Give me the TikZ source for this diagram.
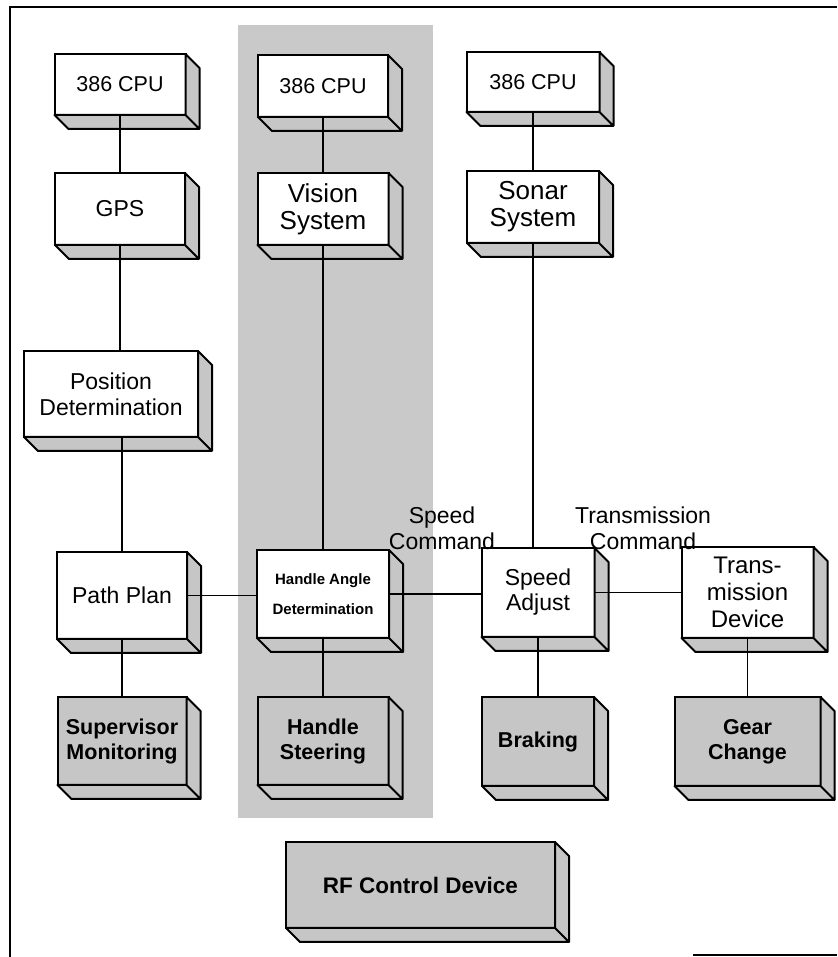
\documentclass[tikz,border=0pt]{standalone}
\usepackage{fontspec}
\setmainfont{Liberation Sans}
\usetikzlibrary{positioning}
\colorlet{shade}{gray!45}
\colorlet{bandgray}{gray!42}

\begin{document}
\begin{tikzpicture}[
  x=1pt, y=1pt,
  blk/.style={draw, line width=2pt, fill=white, align=center,
    inner sep=1pt, outer sep=0pt, font=\fontsize{22}{26}\selectfont},
  dark/.style={blk, fill=shade, font=\fontsize{21.5}{25}\selectfont\bfseries},
  dims/.style 2 args={minimum width=#1, minimum height=#2},
  side/.style={draw, line width=2pt, fill=shade, line join=round},
  link/.style={line width=1.6pt},
  lbl/.style={align=center, font=\fontsize{23}{26}\selectfont},
]
  \useasboundingbox (0,0) rectangle (837,957);

  % outer frame
  \draw[line width=1.5pt] (10,0) -- (10,950) -- (837,950);
  \draw[line width=1.5pt] (693,2) -- (837,2);

  % shaded band behind the vision chain
  \fill[bandgray] (238,139) rectangle (433,932);

  % GPS chain
  \node[blk, dims={131pt}{61pt}, font=\fontsize{21.5}{24}\selectfont] (cpuA) at (120,872.5) {386 CPU};
  \node[blk, dims={130pt}{72pt}, font=\fontsize{23}{26}\selectfont, below=58pt of cpuA] (gps) {GPS};
  \node[blk, dims={174pt}{86pt}, font=\fontsize{23}{26}\selectfont, below=106pt of gps, xshift=-9pt] (posdet) {Position\\Determination};
  \node[blk, dims={130pt}{87pt}, font=\fontsize{23}{26}\selectfont, below=115pt of posdet, xshift=11pt] (path) {Path Plan};
  \node[dark, dims={129pt}{88pt}, below=58pt of path] (sup) {Supervisor\\Monitoring};

  % vision chain
  \node[blk, dims={130pt}{62pt}, font=\fontsize{21.5}{24}\selectfont] (cpuB) at (323,871) {386 CPU};
  \node[blk, dims={131pt}{72pt}, font=\fontsize{26}{27}\selectfont, below=56pt of cpuB] (vision) {Vision\\System};
  \node[blk, dims={132pt}{88pt}, font=\fontsize{15}{30}\selectfont\bfseries, below=305pt of vision] (had) {Handle Angle\\Determination};
  \node[dark, dims={131pt}{88pt}, below=59pt of had] (steer) {Handle\\Steering};

  % sonar chain
  \node[blk, dims={133pt}{60pt}, font=\fontsize{21.5}{24}\selectfont] (cpuC) at (533,875) {386 CPU};
  \node[blk, dims={132pt}{72pt}, font=\fontsize{26}{27}\selectfont, below=59pt of cpuC] (sonar) {Sonar\\System};
  \node[blk, dims={113pt}{89pt}, font=\fontsize{23}{25}\selectfont, below=305pt of sonar, xshift=5pt] (speed) {Speed\\Adjust};
  \node[dark, dims={112pt}{89pt}, below=60pt of speed] (brake) {Braking};

  % transmission
  \node[blk, dims={132pt}{91pt}, font=\fontsize{24}{27}\selectfont, right=87pt of speed] (trans) {Trans-\\mission\\Device};
  \node[dark, dims={146pt}{89pt}, below=59pt of trans] (gear) {Gear\\Change};

  % remote
  \node[dark, dims={269pt}{86pt}, font=\fontsize{22.5}{26}\selectfont\bfseries] (rf) at (420.5,72) {RF Control Device};

  % link labels
  \node[lbl] (spdcmd) at (442,429) {Speed\\Command};
  \node[lbl] (trncmd) at (643,429) {Transmission\\Command};

  % depth faces of every block
  \foreach \n in {cpuA,gps,posdet,path,sup,cpuB,vision,had,steer,cpuC,sonar,speed,brake,trans,gear,rf}
    \draw[side] (\n.north east) -- ++(14,-14) -- ([shift={(14,-14)}]\n.south east)
      -- ([shift={(14,-14)}]\n.south west) -- (\n.south west) -- (\n.south east) -- cycle
      (\n.south east) -- ++(14,-14);

  % links
  \draw[link] (cpuA.south) -- (cpuA.south |- gps.north);
  \draw[link] (gps.south) -- (gps.south |- posdet.north);
  \draw[link] (path.north |- posdet.south) -- (path.north);
  \draw[link] (path.south) -- (path.south |- sup.north);
  \draw[link] (cpuB.south) -- (cpuB.south |- vision.north);
  \draw[link] (vision.south) -- (vision.south |- had.north);
  \draw[link] (had.south) -- (had.south |- steer.north);
  \draw[link] (cpuC.south) -- (cpuC.south |- sonar.north);
  \draw[link] (sonar.south) -- (sonar.south |- speed.north);
  \draw[link] (speed.south) -- (speed.south |- brake.north);
  \draw[link] (trans.south) -- (trans.south |- gear.north);
  \draw[link] (path.east) -- (path.east -| had.west);
  \draw[link] (had.east) -- (had.east -| speed.west);
  \draw[link] (speed.east) -- (speed.east -| trans.west);
\end{tikzpicture}
\end{document}
